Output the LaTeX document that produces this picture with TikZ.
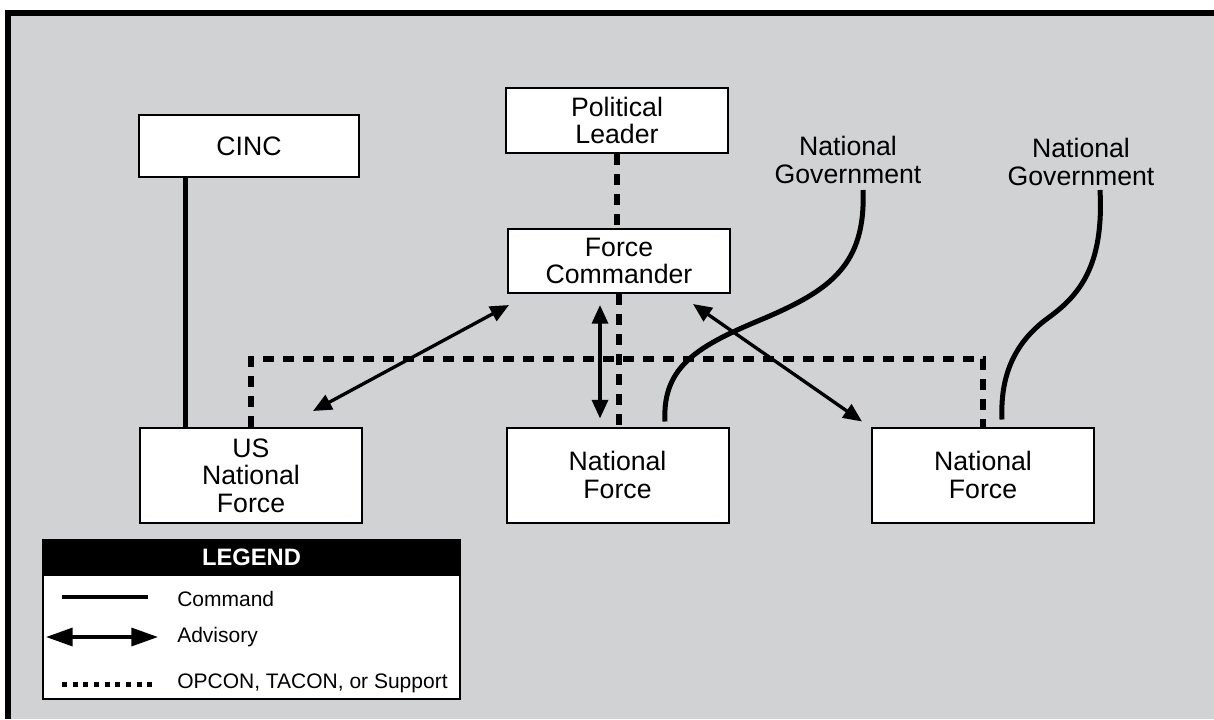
\documentclass[tikz,border=0pt]{standalone}
\usepackage{fontspec}
\setmainfont{Liberation Sans}
\usetikzlibrary{arrows.meta,calc}
\definecolor{bggrey}{HTML}{D1D2D4}
\begin{document}
\begin{tikzpicture}[x=0.75pt,y=-0.75pt,
  box/.style={draw=black,line width=1.5pt,fill=white,align=center,
    font=\fontsize{20}{20.5}\selectfont,inner sep=0pt},
  cmdline/.style={line width=3.75pt},
  opcon/.style={line width=3.9pt,dash pattern=on 8.25pt off 6.75pt},
  adv/.style={line width=2.5pt,{Triangle[length=14pt,width=12pt]}-{Triangle[length=14pt,width=12pt]}},
  lbl/.style={align=center,font=\fontsize{20}{20.5}\selectfont,inner sep=0pt},
  legtxt/.style={anchor=west,font=\fontsize{15.75}{17}\selectfont,inner sep=0pt}]
\useasboundingbox (0,0) rectangle (1214,719);
\fill[white] (0,0) rectangle (1214,719);
\fill[bggrey] (8,12) rectangle (1214,719);
\draw[line width=4.5pt] (7.5,719) -- (7.5,12.5) -- (1214,12.5);

% nodes
\node[box,minimum width=165pt,minimum height=46.5pt] (cinc) at (249,146) {CINC};
\node[box,minimum width=166.5pt,minimum height=48.75pt] (pl) at (617,120.5) {Political\\Leader};
\node[box,minimum width=166.5pt,minimum height=48pt] (fc) at (619,261) {Force\\Commander};
\node[box,minimum width=166.5pt,minimum height=71.25pt] (us) at (251,475.5) {US\\National\\Force};
\node[box,minimum width=166.5pt,minimum height=71.25pt] (nfm) at (617.5,475) {National\\Force};
\node[box,minimum width=166.5pt,minimum height=71.25pt] (nfr) at (983,475) {National\\Force};
\node[lbl] (ng1) at (848,160) {National\\Government};
\node[lbl] (ng2) at (1081,162) {National\\Government};

% command line CINC - US
\path (cinc.south west) ++(47,0) coordinate (cs);
\draw[cmdline] (cs) -- (cs |- us.north);

% opcon lines
\draw[opcon] (pl.south) -- (pl.south |- fc.north);
\draw[opcon] (fc.south) -- (fc.south |- nfm.north);
\path (us.north) ++(0,-68) coordinate (h1);
\draw[opcon] (us.north) -- (h1) -- (h1 -| nfr.north) -- (nfr.north);

% advisory arrows
\draw[adv] ([shift={(62,-16)}]us.north) -- ([shift={(2,11)}]fc.south west);
\draw[adv] ([shift={(-19,11)}]fc.south) -- ([shift={(-17.5,-8)}]nfm.north);
\draw[adv] ([shift={(-38,10)}]fc.south east) -- ([shift={(-9,-5)}]nfr.north west);

% national government curves
\draw[cmdline] ([shift={(15,30)}]ng1.center) .. controls (866,265) and (830,290) .. (765,318)
  .. controls (700,345) and (662,365) .. ([shift={(47.5,-5)}]nfm.north);
\draw[cmdline] ([shift={(19,28)}]ng2.center) .. controls (1104,265) and (1080,295) .. (1048,318)
  .. controls (1015,342) and (1000,375) .. ([shift={(19,-7)}]nfr.north);

% legend
\node[draw=black,line width=1.5pt,fill=white,minimum width=312.75pt,minimum height=119.25pt,inner sep=0pt] (leg) at (251.5,619.5) {};
\node[fill=black,minimum width=312.75pt,minimum height=27.75pt,inner sep=0pt,anchor=north,
  text=white,font=\bfseries\fontsize{17.8}{19}\selectfont] (legh) at (leg.north) {LEGEND};
\coordinate (l1a) at (62,597); \coordinate (l1b) at (148,597);
\draw[line width=3.5pt] (l1a) -- (l1b);
\node[legtxt] (t1) at (177,599) {Command};
\coordinate (l2a) at (46,637); \coordinate (l2b) at (158,637);
\draw[line width=2.5pt,{Triangle[length=20pt,width=13.5pt]}-{Triangle[length=20pt,width=13.5pt]}] (l2a) -- (l2b);
\node[legtxt] (t2) at (177,637) {Advisory};
\coordinate (l3a) at (62,684); \coordinate (l3b) at (152,684);
\draw[line width=3.75pt,dash pattern=on 3.75pt off 4.25pt] (l3a) -- (l3b);
\node[legtxt] (t3) at (177,683) {OPCON, TACON, or Support};
\end{tikzpicture}
\end{document}
